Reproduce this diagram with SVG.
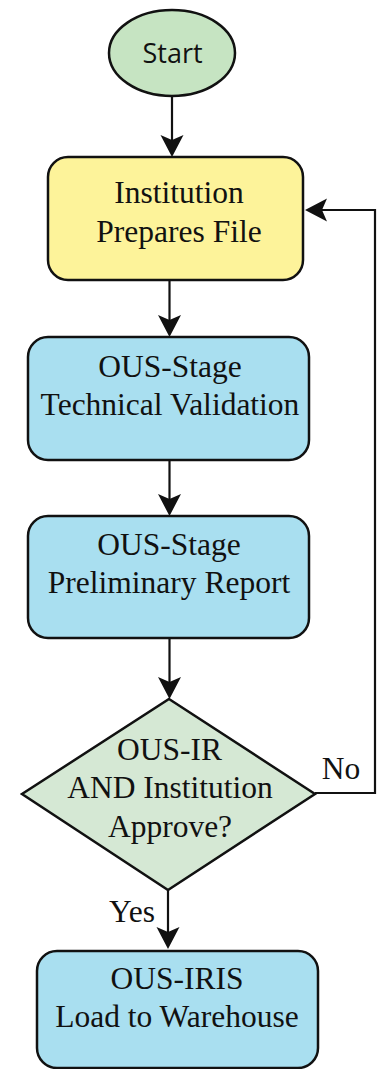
<svg xmlns="http://www.w3.org/2000/svg" width="378" height="1069" viewBox="0 0 378 1069">
  <defs>
    <style>
      .box { stroke: #111; stroke-width: 2.5; }
      .proc { fill: #a9dff0; }
      .serif { font-family: 'Liberation Serif', 'Times New Roman', serif; font-size: 31.5px; fill: #111; text-anchor: middle; }
      .sans { font-family: 'Open Sans', 'Noto Sans', sans-serif; font-size: 27px; fill: #111; text-anchor: middle; }
      .conn { fill: none; stroke: #111; stroke-width: 2.2; }
    </style>
    <marker id="arrow" viewBox="-18 -12 24 24" refX="0" refY="0" markerWidth="24" markerHeight="24" markerUnits="userSpaceOnUse" orient="auto">
      <path d="M5,0 L-17,-11.5 L-12,0 L-17,11.5 Z" fill="#111"/>
    </marker>
  </defs>

  <g id="start">
    <ellipse class="box" cx="172" cy="53" rx="63" ry="43" fill="#c6e4c2"/>
    <text class="sans" x="172.5" y="63">Start</text>
  </g>

  <g id="prepare">
    <rect class="box" x="48" y="157" width="255" height="123" rx="20" fill="#fdf39a"/>
    <text class="serif" x="179" y="203">Institution</text>
    <text class="serif" x="179" y="242">Prepares File</text>
  </g>

  <g id="validation">
    <rect class="box proc" x="28" y="337" width="281" height="123" rx="20"/>
    <text class="serif" x="170" y="377">OUS-Stage</text>
    <text class="serif" x="170" y="415">Technical Validation</text>
  </g>

  <g id="report">
    <rect class="box proc" x="28" y="516" width="281" height="122" rx="20"/>
    <text class="serif" x="169" y="555">OUS-Stage</text>
    <text class="serif" x="169" y="593">Preliminary Report</text>
  </g>

  <g id="approve">
    <polygon class="box" points="169,699 315,794 168,890 22,794" fill="#d5e8d4"/>
    <text class="serif" x="169.5" y="760">OUS-IR</text>
    <text class="serif" x="170" y="798">AND Institution</text>
    <text class="serif" x="170" y="837">Approve?</text>
  </g>

  <g id="load">
    <rect class="box proc" x="37" y="951" width="281" height="117" rx="20"/>
    <text class="serif" x="177" y="989">OUS-IRIS</text>
    <text class="serif" x="177" y="1027">Load to Warehouse</text>
  </g>

  <g id="connectors">
    <path class="conn" d="M172,96 V152" marker-end="url(#arrow)"/>
    <path class="conn" d="M169.5,280 V332" marker-end="url(#arrow)"/>
    <path class="conn" d="M169.5,460 V511" marker-end="url(#arrow)"/>
    <path class="conn" d="M169.5,638 V694" marker-end="url(#arrow)"/>
    <path class="conn" d="M168,890 V944" marker-end="url(#arrow)"/>
    <path class="conn" d="M315,793 H375 V210 H310" marker-end="url(#arrow)"/>
    <text class="serif" x="341" y="779">No</text>
    <text class="serif" x="132" y="922">Yes</text>
  </g>
</svg>
